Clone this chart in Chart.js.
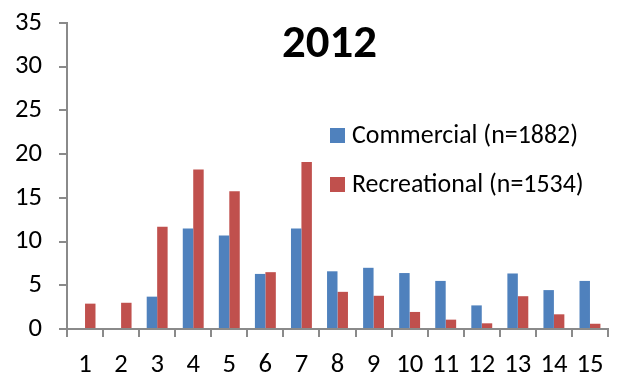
<!DOCTYPE html>
<html>
<head>
<meta charset="utf-8">
<script src="https://cdn.jsdelivr.net/npm/chart.js@4"></script>
<style>
html,body{margin:0;padding:0;background:#fff;}
#wrap{width:620px;height:374px;position:relative;}
</style>
</head>
<body>
<div id="wrap"><canvas id="c"></canvas></div>
<script>
const categories = ['1','2','3','4','5','6','7','8','9','10','11','12','13','14','15'];
const commercial = [0, 0, 3.7, 11.5, 10.7, 6.3, 11.5, 6.6, 7.0, 6.4, 5.5, 2.7, 6.35, 4.45, 5.5];
const recreational = [2.9, 3.0, 11.7, 18.25, 15.75, 6.5, 19.1, 4.25, 3.8, 1.95, 1.07, 0.65, 3.75, 1.68, 0.6];
const seriesNames = ['Commercial (n=1882)', 'Recreational (n=1534)'];
const titleText = '2012';
const yTicks = [0, 5, 10, 15, 20, 25, 30, 35];

const FONT = 'Carlito, Lato, "Liberation Sans", sans-serif';
const BLUE = '#4F81BD', RED = '#C0504D', AXIS = '#8a8a8a';

const mctx = document.createElement('canvas').getContext('2d');
function fitSize(text, weight, target) {
  mctx.font = weight + ' 100px ' + FONT;
  return 100 * target / mctx.measureText(text).width;
}
const tickSize = fitSize('35', 'normal', 27);
const titleSize = fitSize(titleText, 'bold', 95);
const legendSize = fitSize(seriesNames[0], 'normal', 226);

const overlay = {
  id: 'overlay',
  afterDraw(chart) {
    const ctx = chart.ctx;
    ctx.save();
    ctx.fillStyle = '#000';
    ctx.textAlign = 'center';
    ctx.textBaseline = 'alphabetic';
    ctx.font = 'bold ' + titleSize.toFixed(2) + 'px ' + FONT;
    ctx.fillText(titleText, 329.5, 57);
    ctx.textAlign = 'left';
    ctx.font = legendSize.toFixed(2) + 'px ' + FONT;
    const rows = [[128, 143], [177, 192]];
    chart.data.datasets.forEach((ds, i) => {
      ctx.fillStyle = ds.backgroundColor;
      ctx.fillRect(330, rows[i][0], 15, 15);
      ctx.fillStyle = '#000';
      ctx.fillText(ds.label, 352, rows[i][1]);
    });
    ctx.restore();
  }
};

new Chart(document.getElementById('c'), {
  type: 'bar',
  data: {
    labels: categories,
    datasets: [
      { label: seriesNames[0], data: commercial, backgroundColor: BLUE },
      { label: seriesNames[1], data: recreational, backgroundColor: RED }
    ]
  },
  options: {
    responsive: true,
    maintainAspectRatio: false,
    animation: false,
    devicePixelRatio: 1,
    layout: { padding: { top: 23, right: 12, left: 0, bottom: 0 } },
    datasets: { bar: { categoryPercentage: 0.58, barPercentage: 1 } },
    plugins: { legend: { display: false }, title: { display: false }, tooltip: { enabled: false } },
    scales: {
      x: {
        grid: { display: true, drawOnChartArea: false, drawTicks: true, tickLength: 8, color: AXIS, lineWidth: 2, offset: true },
        border: { display: true, color: AXIS, width: 2 },
        ticks: { color: '#000', font: { family: FONT, size: tickSize }, padding: 12, maxRotation: 0, autoSkip: false },
        afterFit(scale) { scale.height = 45; scale.paddingLeft = 0; scale.paddingRight = 0; }
      },
      y: {
        min: 0, max: 35,
        afterBuildTicks(scale) { scale.ticks = yTicks.map(v => ({ value: v })); },
        grid: { display: true, drawOnChartArea: false, drawTicks: true, tickLength: 8, color: AXIS, lineWidth: 2 },
        border: { display: true, color: AXIS, width: 2 },
        ticks: { color: '#000', font: { family: FONT, size: tickSize }, padding: 17 },
        afterFit(scale) { scale.width = 67; scale.paddingTop = 0; scale.paddingBottom = 0; }
      }
    }
  },
  plugins: [overlay]
});
</script>
</body>
</html>
